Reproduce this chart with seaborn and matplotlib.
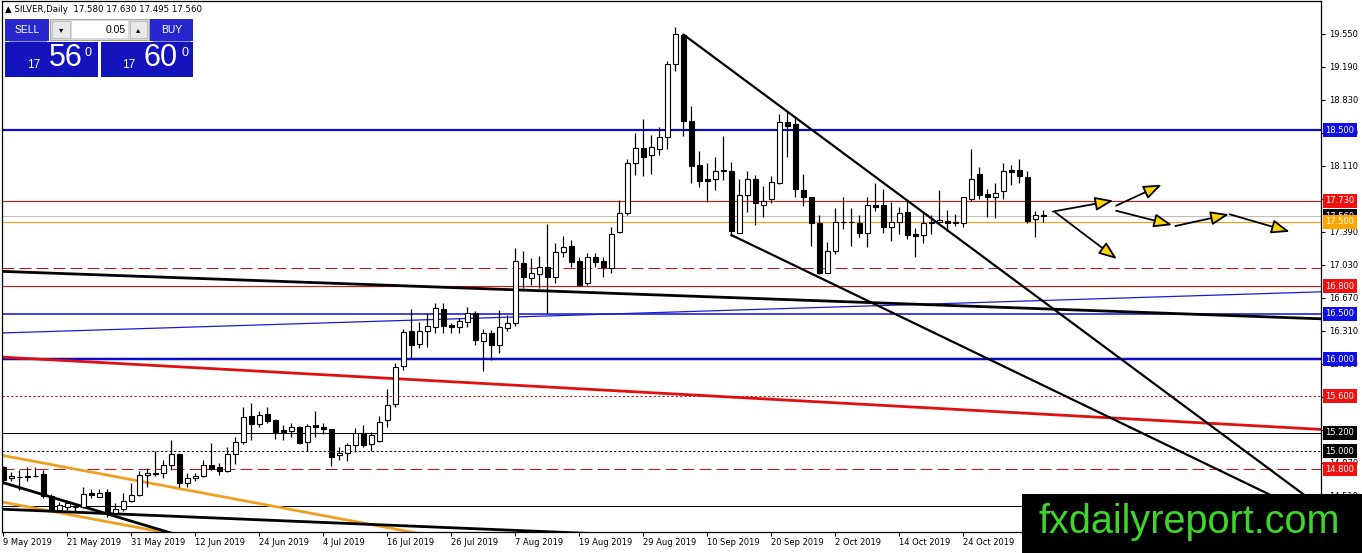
import numpy as np
import pandas as pd
import matplotlib
matplotlib.use("Agg")
import matplotlib.pyplot as plt
import seaborn as sns
from matplotlib.patches import Rectangle
from matplotlib.transforms import blended_transform_factory

# ---------------- data ----------------
opens = [14.823,14.703,14.721,14.725,14.732,14.751,14.510,14.358,14.387,14.387,
         14.394,14.540,14.503,14.554,14.321,14.365,14.460,14.518,14.736,14.751,
         14.765,14.845,14.969,14.649,14.707,14.729,14.852,14.823,14.787,14.969,
         15.103,15.383,15.295,15.401,15.339,15.226,15.215,15.266,15.099,15.281,
         15.259,15.237,14.953,14.975,15.062,15.201,15.077,15.113,15.339,15.513,
         15.928,16.306,16.168,16.306,16.350,16.546,16.375,16.350,16.412,16.510,
         16.204,16.292,16.157,16.339,16.393,17.056,16.885,16.932,17.005,16.903,
         17.168,17.238,17.078,16.830,17.114,17.078,16.994,17.387,17.601,18.139,
         18.303,18.227,18.292,18.430,19.223,19.539,18.605,18.121,17.965,17.965,
         18.066,18.059,17.383,17.797,17.965,17.688,17.746,17.928,18.594,18.568,
         17.848,17.768,17.492,16.946,17.186,17.503,17.503,17.492,17.383,17.685,
         17.681,17.448,17.503,17.608,17.368,17.354,17.485,17.499,17.514,17.499,
         17.485,17.754,18.023,17.801,17.768,17.834,18.066,18.066,17.986,17.528,
         17.580]
highs = [14.838,14.776,14.794,14.823,14.823,14.794,14.532,14.449,14.449,14.423,
         14.605,14.583,14.590,14.583,14.431,14.540,14.649,14.787,14.816,15.005,
         14.903,15.121,14.983,14.765,14.765,14.903,15.092,14.874,15.049,15.150,
         15.478,15.521,15.441,15.477,15.346,15.284,15.310,15.273,15.295,15.441,
         15.310,15.244,15.048,15.091,15.248,15.284,15.208,15.382,15.673,15.964,
         16.328,16.546,16.412,16.502,16.612,16.612,16.401,16.448,16.575,16.532,
         16.328,16.321,16.539,16.484,17.212,17.187,17.103,17.129,17.477,17.274,
         17.347,17.303,17.114,17.165,17.165,17.114,17.448,17.739,18.183,18.474,
         18.619,18.448,18.532,19.259,19.623,19.545,18.765,18.277,18.139,18.205,
         18.437,18.157,17.965,18.059,18.012,17.892,18.001,18.677,18.703,18.655,
         18.023,17.775,17.575,17.285,17.648,17.768,17.648,17.575,17.768,17.921,
         17.855,17.721,17.666,17.746,17.430,17.594,17.575,17.848,17.630,17.586,
         17.775,18.292,18.103,17.855,17.921,18.146,18.121,18.183,18.059,17.615,
         17.630]
lows = [14.641,14.678,14.576,14.678,14.714,14.485,14.350,14.340,14.358,14.350,
        14.376,14.485,14.500,14.285,14.303,14.350,14.449,14.510,14.612,14.729,
        14.703,14.794,14.605,14.605,14.678,14.714,14.794,14.736,14.776,14.860,
        15.078,15.121,15.259,15.310,15.128,15.121,15.157,15.077,15.004,15.157,
        15.186,14.837,14.902,14.895,14.990,15.048,14.997,15.102,15.266,15.477,
        15.884,16.012,16.121,16.132,16.284,16.284,16.292,16.292,16.357,16.157,
        15.877,15.993,16.073,16.313,16.360,16.776,16.812,16.776,16.510,16.830,
        17.114,17.005,16.801,16.812,17.012,16.896,16.939,17.376,17.576,18.012,
        18.001,18.023,18.230,18.292,19.150,18.438,17.928,17.885,17.721,17.848,
        17.957,17.346,17.383,17.612,17.466,17.550,17.710,17.914,18.205,17.775,
        17.674,17.237,16.932,16.939,17.150,17.419,17.237,17.332,17.230,17.623,
        17.375,17.295,17.368,17.310,17.121,17.274,17.368,17.477,17.405,17.455,
        17.441,17.732,17.746,17.557,17.539,17.746,17.903,17.921,17.485,17.339,
        17.495]
closes = [14.685,14.729,14.714,14.714,14.725,14.510,14.365,14.412,14.431,14.394,
          14.532,14.518,14.540,14.321,14.365,14.460,14.518,14.736,14.758,14.758,
          14.845,14.969,14.649,14.707,14.729,14.852,14.809,14.787,14.969,15.103,
          15.369,15.296,15.390,15.332,15.211,15.211,15.259,15.091,15.273,15.259,
          15.237,14.939,14.975,15.062,15.193,15.066,15.171,15.321,15.499,15.921,
          16.302,16.153,16.306,16.364,16.557,16.364,16.350,16.422,16.510,16.212,
          16.284,16.157,16.350,16.393,17.078,16.896,16.939,17.012,16.903,17.168,
          17.230,17.067,16.812,17.114,17.067,17.005,17.368,17.601,18.139,18.303,
          18.212,18.314,18.423,19.223,19.550,18.605,18.110,17.950,17.950,18.059,
          18.052,17.405,17.797,17.965,17.703,17.732,17.935,18.594,18.546,17.855,
          17.775,17.492,16.939,17.186,17.503,17.495,17.495,17.383,17.681,17.666,
          17.448,17.503,17.601,17.357,17.346,17.485,17.499,17.521,17.492,17.485,
          17.768,17.972,17.790,17.775,17.819,18.052,18.045,18.001,17.514,17.572,
          17.560]

date_ticks = [0, 8, 16, 24, 32, 40, 48, 56, 64, 72, 80, 88, 96, 104, 112, 120]
date_labels = ["9 May 2019", "21 May 2019", "31 May 2019", "12 Jun 2019", "24 Jun 2019",
               "4 Jul 2019", "16 Jul 2019", "26 Jul 2019", "7 Aug 2019", "19 Aug 2019",
               "29 Aug 2019", "10 Sep 2019", "20 Sep 2019", "2 Oct 2019", "14 Oct 2019",
               "24 Oct 2019"]
price_ticks = [14.51, 14.87, 15.23, 15.59, 15.95, 16.31, 16.67, 17.03, 17.39, 17.75,
               18.11, 18.47, 18.83, 19.19, 19.55]
# tick labels fully covered by level boxes in the reference are left blank
hidden_tick_labels = [15.23, 15.59, 17.75]

# horizontal levels (the 14.40 label is hidden by the watermark in the reference)
level_prices = [18.5, 17.73, 17.56, 17.5, 17.0, 16.8, 16.5, 16.0, 15.6, 15.2, 15.0, 14.8, 14.4]
level_labels = ["18.500", "17.730", "17.560", "17.500", None, "16.800", "16.500", "16.000",
                "15.600", "15.200", "15.000", "14.800", None]

# trend lines (bar index, price anchors)
trend_main_black = ([-1, 165], [16.963, 16.442])
trend_blue = ([-1, 165], [16.286, 16.738])
trend_red = ([-1, 165], [16.029, 15.235])
trend_orange_up = ([-1, 60], [14.967, 13.969])
trend_orange_lo = ([-1, 30], [14.458, 13.951])
trend_black_steep = ([-1, 30], [14.681, 13.869])
trend_black_flat = ([-1, 75], [14.369, 14.095])
wedge_upper = ([85, 165], [19.545, 14.367])
wedge_lower = ([91, 165], [17.357, 14.243])

arrow_starts = [(131.2, 17.613), (139.1, 17.677), (139.1, 17.622), (146.5, 17.455),
                (153.3, 17.583), (131.5, 17.604)]
arrow_ends = [(138.75, 17.733), (144.8, 17.906), (146.1, 17.466), (153.2, 17.583),
              (160.8, 17.393), (139.2, 17.095)]

# ---------------- figure ----------------
sns.set_theme(style="white")
plt.rcParams["font.family"] = ["DejaVu Sans"]
W, H = 1362, 553
fig = plt.figure(figsize=(W / 100, H / 100), dpi=100)
fig.patch.set_facecolor("white")
ax = fig.add_axes([2 / W, 21 / H, 1319 / W, 531 / H])
ax.set_facecolor("white")

df = pd.DataFrame({"o": opens, "h": highs, "l": lows, "c": closes})
df["bar"] = np.arange(len(df))
up = df["c"] >= df["o"]

PT = 0.72  # points per pixel

level_styles = {
    18.5: dict(color="#0a0ac8", lw=2.2, ls="-"),
    17.73: dict(color="#e01010", lw=1.1, ls="-"),
    17.56: dict(color="#bdbdbd", lw=1.0, ls="-"),
    17.5: dict(color="#f0a020", lw=1.2, ls="-"),
    17.0: dict(color="#d01010", lw=1.0, ls=(0, (12, 5))),
    16.8: dict(color="#e01010", lw=1.1, ls="-"),
    16.5: dict(color="#0a0ac8", lw=1.5, ls="-"),
    16.0: dict(color="#0a0ac8", lw=2.5, ls="-"),
    15.6: dict(color="#d01010", lw=1.0, ls=(0, (2.2, 2.2))),
    15.2: dict(color="#000000", lw=1.0, ls="-"),
    15.0: dict(color="#000000", lw=1.0, ls=(0, (2.2, 2.2))),
    14.8: dict(color="#d01010", lw=1.0, ls=(0, (12, 5))),
    14.4: dict(color="#000000", lw=1.0, ls="-"),
}
label_colors = {18.5: "#1010e6", 17.73: "#f01010", 17.56: "#000000", 17.5: "#ffa500",
                16.8: "#f01010", 16.5: "#1010e6", 16.0: "#1010e6", 15.6: "#f01010",
                15.2: "#000000", 15.0: "#000000", 14.8: "#f01010", 14.4: "#000000"}
for p in level_prices:
    st = level_styles[p]
    ax.axhline(p, color=st["color"], lw=st["lw"] * PT, ls=st["ls"], zorder=1)

# trend lines drawn through seaborn
def tline(anchor, color, lw):
    sns.lineplot(x=anchor[0], y=anchor[1], ax=ax, color=color, lw=lw, legend=False,
                 sort=False, zorder=2)

tline(trend_blue, "#1a1ad0", 0.9)
tline(trend_main_black, "#000000", 2.0)
tline(trend_red, "#e01010", 2.0)
tline(trend_orange_up, "#f0a020", 2.0)
tline(trend_orange_lo, "#f0a020", 2.0)
tline(trend_black_steep, "#000000", 2.0)
tline(trend_black_flat, "#000000", 2.0)
tline(wedge_upper, "#000000", 1.6)
tline(wedge_lower, "#000000", 1.6)

# candles
ax.vlines(df["bar"], df["l"], df["h"], color="black", lw=0.9, zorder=3)
bw = 0.62
ax.bar(df["bar"][up], (df["c"] - df["o"])[up], bottom=df["o"][up], width=bw,
       color="white", edgecolor="black", lw=0.8, zorder=4)
ax.bar(df["bar"][~up], (df["o"] - df["c"])[~up], bottom=df["c"][~up], width=bw,
       color="black", edgecolor="black", lw=0.8, zorder=4)

# arrows
for s, e in zip(arrow_starts, arrow_ends):
    ax.annotate("", xy=e, xytext=s, zorder=6,
                arrowprops=dict(arrowstyle="-|>,head_length=1.1,head_width=0.42",
                                fc="#ffd400", ec="black", lw=1.3, shrinkA=0, shrinkB=0,
                                mutation_scale=10))

# axes
ax.set_xlim(-0.1625, 164.71)
ax.set_ylim(14.117, 19.91)
ax.yaxis.tick_right()
ax.set_yticks(price_ticks)
ax.set_yticklabels(["" if v in hidden_tick_labels else f"{v:.3f}" for v in price_ticks])
ax.set_xticks(date_ticks)
ax.set_xticklabels(date_labels, ha="left")
ax.tick_params(axis="y", which="both", right=True, left=False, length=3, width=0.8,
               pad=2.5, labelsize=6, colors="black", direction="out")
ax.tick_params(axis="x", which="both", bottom=True, length=3, width=0.8, pad=1.5,
               labelsize=6, colors="black", direction="out")
for lbl in ax.get_xticklabels():
    lbl.set_horizontalalignment("left")
ax.set_xlabel("")
ax.set_ylabel("")
for sp in ax.spines.values():
    sp.set_color("black")
    sp.set_linewidth(0.9)
    sp.set_visible(True)
ax.grid(False)

# right-side level labels
trans = blended_transform_factory(ax.transAxes, ax.transData)
for p, t in zip(level_prices, level_labels):
    if t is None:
        continue
    ax.text(1 + 4.5 / 1319, p, t, transform=trans, ha="left", va="center", fontsize=6,
            color="white", clip_on=False, zorder=20,
            bbox=dict(boxstyle="square,pad=0.3", fc=label_colors[p], ec="none"))

# ---------------- overlays in pixel coordinates ----------------
def fx(x):
    return x / W

def fy(y):
    return 1 - y / H

def rect(x0, y0, x1, y1, fc, ec="none", lw=0, z=30):
    fig.add_artist(Rectangle((fx(x0), fy(y1)), (x1 - x0) / W, (y1 - y0) / H,
                             transform=fig.transFigure, fc=fc, ec=ec, lw=lw, zorder=z))

fig.text(fx(5), fy(10), "▲ SILVER,Daily  17.580 17.630 17.495 17.560", fontsize=6.2,
         ha="left", va="center", color="black", zorder=31)

# trade panel
rect(5, 19, 49, 41, "#2727cf")
rect(150, 19, 193, 41, "#2727cf")
rect(50, 19, 149, 40, "#d8d8d8", ec="#9a9a9a", lw=0.6)
rect(52, 21, 70, 38, "#e8e8e8", ec="#b0b0b0", lw=0.5, z=31)
rect(72, 21, 128, 38, "white", z=31)
rect(130, 21, 147, 38, "#e8e8e8", ec="#b0b0b0", lw=0.5, z=31)
rect(5, 42, 98, 77, "#1414bd")
rect(101, 42, 193, 77, "#1414bd")
fig.add_artist(plt.Line2D([fx(9), fx(46)], [fy(40.5), fy(40.5)], color="#8c8ce6", lw=0.7,
                          transform=fig.transFigure, zorder=32))
fig.add_artist(plt.Line2D([fx(153), fx(190)], [fy(40.5), fy(40.5)], color="#8c8ce6", lw=0.7,
                          transform=fig.transFigure, zorder=32))
fig.text(fx(27), fy(30), "SELL", fontsize=7.5, color="white", ha="center", va="center",
         family="Liberation Sans", zorder=33)
fig.text(fx(171.5), fy(30), "BUY", fontsize=7.5, color="white", ha="center", va="center",
         family="Liberation Sans", zorder=33)
fig.text(fx(126), fy(30), "0.05", fontsize=7.5, color="black", ha="right", va="center",
         family="Liberation Sans", zorder=33)
fig.text(fx(61), fy(30), "▾", fontsize=6, color="black", ha="center", va="center", zorder=33)
fig.text(fx(138.5), fy(30), "▴", fontsize=6, color="black", ha="center", va="center", zorder=33)
for xs, big, xb, xsup in [(33.5, "56", 66, 88), (129, "60", 161, 185)]:
    fig.text(fx(xs), fy(65), "17", fontsize=8.5, color="white", ha="center", va="center",
             family="Liberation Sans", zorder=33)
    fig.text(fx(xb), fy(58), big, fontsize=22, color="white", ha="center", va="center",
             family="Liberation Sans", zorder=33)
    fig.text(fx(xsup), fy(53), "0", fontsize=9, color="white", ha="center", va="center",
             family="Liberation Sans", zorder=33)

# watermark
rect(1022, 494, 1362, 553, "black", z=40)
fig.text(fx(1189), fy(522), "fxdailyreport.com", fontsize=28.5, color="#3ed62a",
         ha="center", va="center", family="Liberation Sans", zorder=41)

fig.savefig("out.png", dpi=100, facecolor="white")
